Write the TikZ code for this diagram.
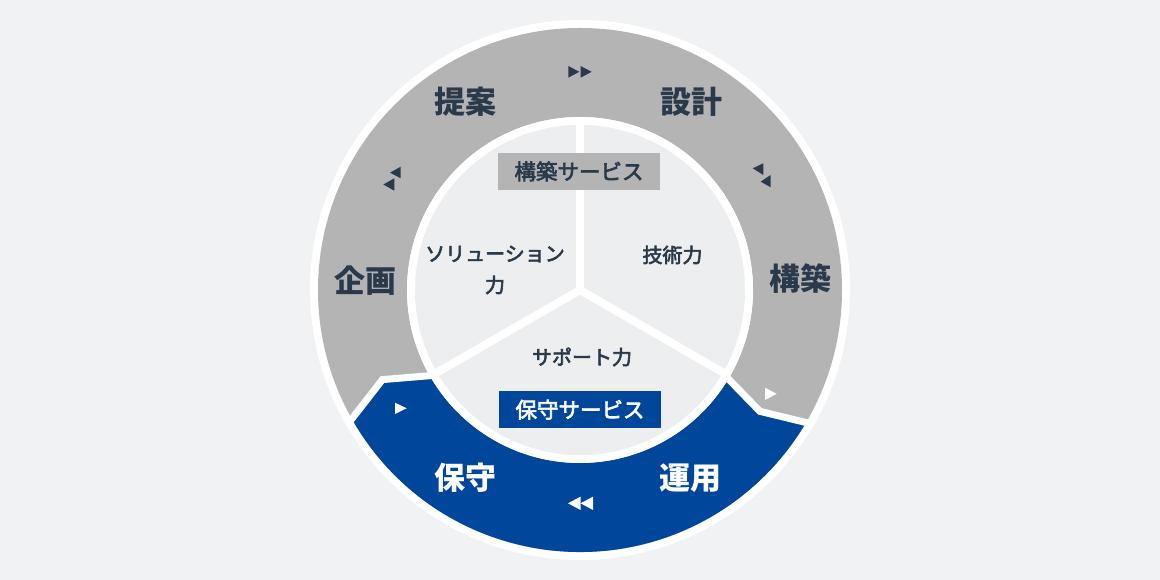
\documentclass[tikz,border=0pt]{standalone}
\usepackage{fontspec}
\setmainfont{Noto Sans CJK JP}
\newfontfamily\jpmed[FakeBold=3]{Noto Sans CJK JP}
\definecolor{bgc}{HTML}{F1F2F4}
\definecolor{ringgray}{HTML}{B4B4B4}
\definecolor{blueseg}{HTML}{00469B}
\definecolor{innerc}{HTML}{ECEEF0}
\definecolor{darktxt}{HTML}{2B3A4A}
\tikzset{
  outerlbl/.style={font=\fontsize{31}{31}\selectfont\bfseries, inner sep=0pt},
  innerlbl/.style={font=\jpmed\fontsize{20}{20}\selectfont, text=darktxt, inner sep=0pt},
  svcbox/.style={minimum width=162pt, minimum height=37pt, inner sep=0pt, font=\jpmed\fontsize{21.5}{21.5}\selectfont},
  sep/.style={white, line width=7pt, line join=miter}
}
\begin{document}
\begin{tikzpicture}[x=1pt,y=1pt]
\useasboundingbox (0,0) rectangle (1160,580);
\fill[bgc] (0,0) rectangle (1160,580);
\coordinate (c) at (580,290);
% outer white disk
\fill[white] (c) circle (270);
% gray annulus
\fill[ringgray, even odd rule] (c) circle (262) (c) circle (173);
% blue segment
\begin{scope}[shift={(580,290)}]
\fill[blueseg] (210:262) arc (210:330:262) -- (326:217) -- (329.5:173) arc (329.5:210.5:173) -- (204.4:217) -- cycle;
\draw[sep] (210:268) -- (204.4:217) -- (210.5:168);
\draw[sep] (330:268) -- (326:217) -- (329.5:168);
% inner circles
\fill[white] (0,0) circle (173);
\fill[innerc] (0,0) circle (165);
\draw[white, line width=8pt] (0,0) -- (90:170);
\draw[white, line width=8pt] (0,0) -- (210:170);
\draw[white, line width=8pt] (0,0) -- (330:170);
\fill[white] (0,0) circle (4);
\end{scope}
% service boxes
\node[svcbox, fill=ringgray, text=darktxt] (kochiku) at (579,408.6) {構築サービス};
\node[svcbox, fill=blueseg, text=white] (hoshu) at (580,170.3) {保守サービス};
% inner labels
\node[innerlbl] (sol1) at (495,326) {ソリューション};
\node[innerlbl] (sol2) at (495,295) {力};
\node[innerlbl] (gijutsu) at (672.5,325) {技術力};
\node[innerlbl] (support) at (582,223) {サポート力};
% outer labels
\node[outerlbl, text=darktxt] (teian) at (465,478) {提案};
\node[outerlbl, text=darktxt] (sekkei) at (691,478) {設計};
\node[outerlbl, text=darktxt] (kchk) at (800,301) {構築};
\node[outerlbl, text=darktxt] (kikaku) at (365,299) {企画};
\node[outerlbl, text=white] (hs) at (465,102) {保守};
\node[outerlbl, text=white] (unyo) at (690,102) {運用};
% triangles
\fill[darktxt] (568.3,502.3) -- (579.3,508.2) -- (568.3,514) -- cycle;
\fill[darktxt] (580.5,502.3) -- (591.7,508.2) -- (580.5,514) -- cycle;
\fill[darktxt] (390,407.3) -- (400.7,413.3) -- (400.7,401.7) -- cycle;
\fill[darktxt] (383.3,395.5) -- (394.3,401.7) -- (394.3,389.3) -- cycle;
\fill[darktxt] (752.7,411.7) -- (763.3,416.7) -- (763.3,405) -- cycle;
\fill[darktxt] (760.7,398.3) -- (770.7,405) -- (770.7,392.7) -- cycle;
\fill[white] (765,180) -- (776.7,186.2) -- (765,192.3) -- cycle;
\fill[white] (395,166) -- (406.7,171.7) -- (395,177.3) -- cycle;
\fill[white] (568,76.7) -- (580.5,70) -- (580.5,83.3) -- cycle;
\fill[white] (580.5,76.7) -- (593,70) -- (593,83.3) -- cycle;
\end{tikzpicture}
\end{document}
